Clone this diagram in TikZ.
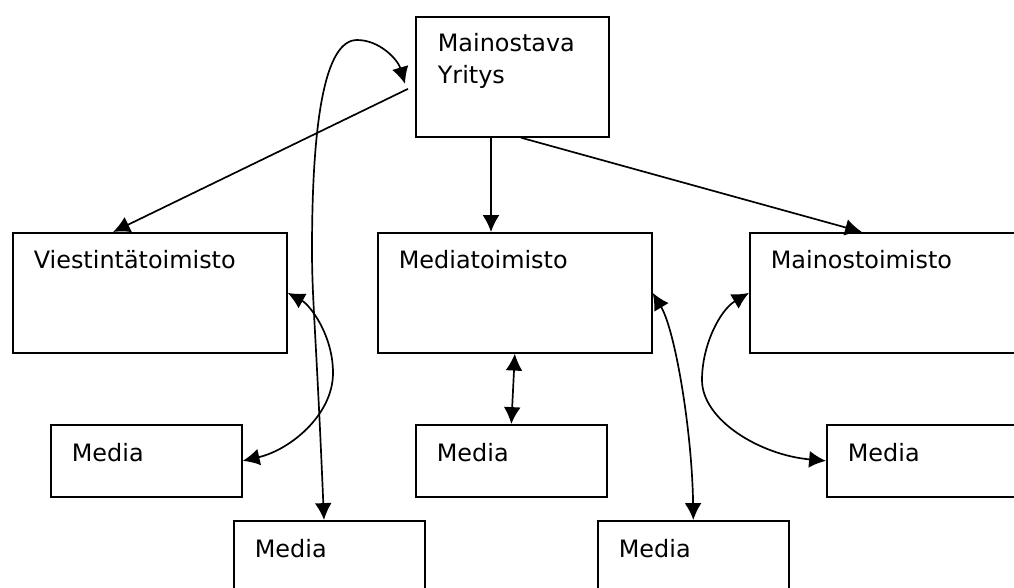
\documentclass[tikz,border=0pt]{standalone}
\usepackage{fontspec}
\setmainfont{DejaVu Sans}
\usetikzlibrary{calc, arrows.meta}

\begin{document}
\begin{tikzpicture} [x=0.025cm, y=-0.025cm, line width=1.2pt, >={Latex[length=12pt, width=12pt]}]
        \def\tw{274}
        \def\th{120}
        \def\mw{191}
        \def\mh{72}

        \tikzset{
            box/.style={draw, rectangle, anchor=north west, inner sep=0pt},
            lbl/.style={anchor=base west, inner sep=0pt, font=\fontsize{17}{22.8}\selectfont}
        }

        \useasboundingbox (0,0) rectangle (1014,587);
        \clip (0,0) rectangle (1014,587);

        % boxes
        \node[box, minimum width=193*0.025cm, minimum height=\th*0.025cm] (yritys) at (415,16) {};
        \node[box, minimum width=\tw*0.025cm, minimum height=\th*0.025cm] (viest) at (12,232) {};
        \node[box, minimum width=\tw*0.025cm, minimum height=\th*0.025cm] (mediat) at (377,232) {};
        \node[box, minimum width=300*0.025cm, minimum height=\th*0.025cm] (mainost) at (749,232) {};
        \node[box, minimum width=\mw*0.025cm, minimum height=\mh*0.025cm] (medl) at (50,424) {};
        \node[box, minimum width=\mw*0.025cm, minimum height=\mh*0.025cm] (medc) at (415,424) {};
        \node[box, minimum width=\mw*0.025cm, minimum height=\mh*0.025cm] (medr) at (826,424) {};
        \node[box, minimum width=\mw*0.025cm, minimum height=\mh*0.025cm] (medbl) at (233,520) {};
        \node[box, minimum width=\mw*0.025cm, minimum height=\mh*0.025cm] (medbr) at (597,520) {};

        % texts
        \node[lbl] (tyr1) at ($(yritys.north west)+(22,35)$) {Mainostava};
        \node[lbl] (tyr2) at ($(yritys.north west)+(22,67)$) {Yritys};
        \node[lbl] (tviest) at ($(viest.north west)+(21,36)$) {Viestintätoimisto};
        \node[lbl] (tmediat) at ($(mediat.north west)+(21,36)$) {Mediatoimisto};
        \node[lbl] (tmainost) at ($(mainost.north west)+(21,36)$) {Mainostoimisto};
        \foreach \b in {medl, medc, medr, medbl, medbr}
            \node[lbl] (t\b) at ($(\b.north west)+(21,37)$) {Media};

        \coordinate (yl1) at ($(yritys.west)+(-7,12)$);
        \coordinate (yl2) at ($(yritys.west)+(-10,7)$);

        % from the company
        \draw[->] (yl1) -- ($(viest.north west)+(101,0)$);
        \draw[->] ($(yritys.south west)+(76,0)$) -- ($(mediat.north west)+(114,0)$);
        \draw[->] ($(yritys.south west)+(106,0)$) -- ($(mainost.north west)+(113,0)$);

        % to and from the media
        \draw[<->] ($(medbl.north west)+(91,0)$) .. controls (316,330) and (312,300) .. (312,250)
            .. controls (312,120) and (325,40) .. (357,40)
            .. controls (380,40) and (398,60) .. (yl2);
        \draw[<->] (viest.east) .. controls (310,305) and (333,335) .. (333,373)
            .. controls (333,415) and (290,450) .. (medl.east);
        \draw[<->] (mediat.south) -- (medc.north);
        \draw[<->] (mediat.east) .. controls (675,330) and (692,430) .. (medbr.north);
        \draw[<->] (mainost.west) .. controls (720,310) and (702,345) .. (702,380)
            .. controls (702,420) and (760,455) .. (medr.west);
    \end{tikzpicture}
\end{document}
